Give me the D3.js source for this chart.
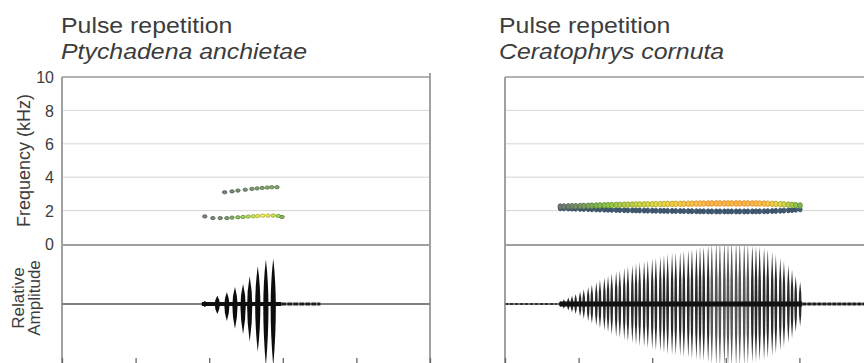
<!DOCTYPE html>
<html>
<head>
<meta charset="utf-8">
<script src="https://cdn.jsdelivr.net/npm/d3@7"></script>
<style>
  body { margin: 0; background: #fff; }
  svg { display: block; }
  text { font-family: "Liberation Sans", Arial, sans-serif; fill: #3c3c3c; }
</style>
</head>
<body>
<svg id="chart"></svg>
<script>
// ---------------------- data ---------------------------
const timeTicks = [0, 100, 200, 300, 400, 500];   // ms (labels fall below the frame)
const freqTicks = [0, 2, 4, 6, 8, 10];            // kHz
const gridFreqs = [2, 4, 6, 8];
const titleLine1 = ["Pulse repetition", "Pulse repetition"];
const titleLine2 = ["Ptychadena anchietae", "Ceratophrys cornuta"];

// Ptychadena anchietae - waveform pulses (time ms, relative amplitude up / down)
const anchTimes = [194, 211, 224, 235, 246, 255, 266, 277, 287];
const anchUp    = [0.05, 0.14, 0.20, 0.29, 0.34, 0.47, 0.64, 0.76, 0.77];
const anchDown  = [0.05, 0.17, 0.29, 0.42, 0.51, 0.64, 0.81, 1.05, 1.05];
const anchTail  = [298, 351];          // low level noise after the call (ms)

// Ptychadena anchietae - spectrogram traces (time ms, kHz, relative energy)
const anchHiT = [221, 231, 239, 249, 258, 265, 272, 279, 285, 292];
const anchHiF = [3.10, 3.15, 3.20, 3.25, 3.30, 3.33, 3.36, 3.38, 3.40, 3.40];
const anchHiE = [0.05, 0.08, 0.10, 0.12, 0.15, 0.18, 0.20, 0.22, 0.25, 0.20];
const anchLoT = [194, 205, 215, 224, 231, 239, 246, 253, 260, 266, 273, 280, 287, 294, 299];
const anchLoF = [1.65, 1.55, 1.55, 1.55, 1.58, 1.60, 1.62, 1.64, 1.66, 1.68, 1.70, 1.70, 1.70, 1.68, 1.62];
const anchLoE = [0.05, 0.08, 0.12, 0.18, 0.25, 0.35, 0.45, 0.55, 0.65, 0.75, 0.80, 0.75, 0.65, 0.50, 0.30];

// Ceratophrys cornuta - waveform pulses (time ms, relative amplitude)
const cornTimes = [75, 80, 86, 91, 96, 102, 107, 113, 118, 124, 129, 135, 140, 145, 151, 156,
  162, 167, 173, 178, 183, 189, 194, 200, 205, 211, 216, 221, 227, 232, 238, 243, 249, 254,
  260, 265, 270, 276, 281, 287, 292, 298, 303, 308, 314, 319, 325, 330, 336, 341, 346, 352,
  357, 363, 368, 374, 379, 385, 390, 395, 401];
const cornAmp = [0.05, 0.08, 0.11, 0.14, 0.17, 0.21, 0.25, 0.29, 0.33, 0.37, 0.41, 0.45, 0.48,
  0.52, 0.55, 0.58, 0.61, 0.64, 0.66, 0.69, 0.71, 0.73, 0.75, 0.77, 0.79, 0.81, 0.83, 0.85,
  0.86, 0.87, 0.88, 0.90, 0.91, 0.93, 0.94, 0.96, 0.97, 0.99, 1.02, 1.04, 1.05, 1.05, 1.05,
  1.05, 1.05, 1.05, 1.04, 1.02, 0.99, 0.98, 0.97, 0.95, 0.92, 0.88, 0.84, 0.79, 0.73, 0.66,
  0.58, 0.48, 0.38];
const cornPre  = [0, 70];      // faint noise before the call (ms)
const cornTail = [404, 500];   // noise after the call (ms)
const cornFreq = 2.2;          // dominant frequency (kHz)

// --------------------- layout --------------------------
const width = 864;
const height = 363;
const panelW = 368;
const panelX = [62, 505];
const topY = 77;
const splitY = 244;
const bottomY = 363;

const svg = d3.select("#chart")
  .attr("width", width)
  .attr("height", height);

const yF = d3.scaleLinear().domain([0, 10]).range([splitY, topY]);
const yA = d3.scaleLinear().domain([-1, 1]).range([bottomY, splitY + 1]);
const energyColor = d3.scaleLinear()
  .domain([0, 0.45, 0.8, 1])
  .range(["#555b64", "#6f9e3c", "#b9b23a", "#e0953a"]);

// spindle shaped pulse
function pulsePath(x, up, down, w) {
  const c = yA(0);
  return "M" + x + "," + yA(up) +
    "Q" + (x + 2 * w) + "," + c + " " + x + "," + yA(-down) +
    "Q" + (x - 2 * w) + "," + c + " " + x + "," + yA(up) + "Z";
}

const panels = [];
for (let p = 0; p < 2; p++) {
  const x0 = panelX[p];
  const x = d3.scaleLinear().domain([0, 500]).range([x0, x0 + panelW]);
  const g = svg.append("g");

  // clip for the amplitude part
  svg.append("clipPath").attr("id", "clipA" + p)
    .append("rect")
    .attr("x", x0).attr("y", splitY + 1)
    .attr("width", panelW).attr("height", bottomY - splitY);

  // grid lines
  g.selectAll(".grid")
    .data(gridFreqs)
    .join("line")
    .attr("x1", x0 + 1).attr("x2", x0 + panelW)
    .attr("y1", d => yF(d)).attr("y2", d => yF(d))
    .attr("stroke", "#d6d6d6")
    .attr("stroke-width", 1);

  // titles
  const t = svg.append("g");
  t.append("text")
    .attr("transform", "translate(" + (x0 - 1 - (p ? 5 : 0)) + ",33) scale(1.13,1)")
    .attr("font-size", 22)
    .text(titleLine1[p]);
  t.append("text")
    .attr("transform", "translate(" + (x0 - 1 - (p ? 5 : 0)) + ",59) scale(1.13,1)")
    .attr("font-size", 22)
    .attr("font-style", "italic")
    .text(titleLine2[p]);

  panels.push({ g: g, x: x, x0: x0 });
}

// --------------------- Ptychadena ----------------------
{
  const { g, x } = panels[0];
  const amp = g.append("g").attr("clip-path", "url(#clipA0)");
  amp.append("line")
    .attr("x1", x(0)).attr("x2", x(500))
    .attr("y1", yA(0)).attr("y2", yA(0))
    .attr("stroke", "#555").attr("stroke-width", 1.3);
  amp.append("line")
    .attr("x1", x(anchTail[0])).attr("x2", x(anchTail[1]))
    .attr("y1", yA(0)).attr("y2", yA(0))
    .attr("stroke", "#222").attr("stroke-width", 3)
    .attr("stroke-dasharray", "5,1");
  amp.append("line")
    .attr("x1", x(anchTimes[0]) - 3).attr("x2", x(anchTail[0]))
    .attr("y1", yA(0)).attr("y2", yA(0))
    .attr("stroke", "#111").attr("stroke-width", 4);
  amp.selectAll(".pulse")
    .data(anchTimes)
    .join("path")
    .attr("d", (d, i) => pulsePath(x(d), anchUp[i], anchDown[i], 2.6))
    .attr("fill", "#0d0d0d");

  const hi = anchHiT.map((d, i) => ({ t: d, f: anchHiF[i], e: anchHiE[i] }));
  const lo = anchLoT.map((d, i) => ({ t: d, f: anchLoF[i], e: anchLoE[i] }));
  g.selectAll(".hi")
    .data(hi.concat(lo))
    .join("ellipse")
    .attr("cx", d => x(d.t))
    .attr("cy", d => yF(d.f))
    .attr("rx", 2.2).attr("ry", 1.6)
    .attr("fill", d => d3.color(energyColor(d.e)).brighter(0.9))
    .attr("stroke", d => energyColor(d.e))
    .attr("stroke-width", 1);
}

// --------------------- Ceratophrys ---------------------
{
  const { g, x } = panels[1];
  const amp = g.append("g").attr("clip-path", "url(#clipA1)");
  amp.append("line")
    .attr("x1", x(0)).attr("x2", x(500))
    .attr("y1", yA(0)).attr("y2", yA(0))
    .attr("stroke", "#444").attr("stroke-width", 1.5);
  amp.append("line")
    .attr("x1", x(cornPre[0])).attr("x2", x(cornPre[1]))
    .attr("y1", yA(0)).attr("y2", yA(0))
    .attr("stroke", "#333").attr("stroke-width", 2)
    .attr("stroke-dasharray", "3,2");
  amp.append("line")
    .attr("x1", x(cornTail[0])).attr("x2", x(cornTail[1]))
    .attr("y1", yA(0)).attr("y2", yA(0))
    .attr("stroke", "#222").attr("stroke-width", 3)
    .attr("stroke-dasharray", "4,1");
  amp.selectAll(".pulse")
    .data(cornTimes)
    .join("path")
    .attr("d", (d, i) => pulsePath(x(d), cornAmp[i], cornAmp[i], 1.45))
    .attr("fill", "#141414")
    .attr("fill-opacity", (d, i) => cornAmp[i] > 1 ? 0.72 : 0.9);
  amp.append("line")
    .attr("x1", x(cornTimes[0])).attr("x2", x(cornTimes[cornTimes.length - 1]) + 2)
    .attr("y1", yA(0)).attr("y2", yA(0))
    .attr("stroke", "#111").attr("stroke-width", 5);

  // spectrogram band: lower dark trace and upper coloured trace per pulse
  g.append("line")
    .attr("x1", x(cornTimes[0]) - 2).attr("x2", x(cornTimes[12]))
    .attr("y1", yF(cornFreq)).attr("y2", yF(cornFreq))
    .attr("stroke", "#4a5a70").attr("stroke-width", 3);
  g.selectAll(".lo")
    .data(cornTimes)
    .join("ellipse")
    .attr("cx", d => x(d))
    .attr("cy", (d, i) => yF(cornFreq - 0.05 - 0.2 * Math.min(cornAmp[i], 1)))
    .attr("rx", 1.9).attr("ry", 2.6)
    .attr("fill", "#3e5a72")
    .attr("stroke", "#2f4458").attr("stroke-width", 0.8);
  g.selectAll(".up")
    .data(cornTimes)
    .join("ellipse")
    .attr("cx", d => x(d))
    .attr("cy", (d, i) => yF(cornFreq + 0.03 + 0.2 * Math.min(cornAmp[i], 1)))
    .attr("rx", 2.2).attr("ry", 2.8)
    .attr("fill", (d, i) => d3.color(energyColor(Math.min(cornAmp[i], 1))).brighter(0.6))
    .attr("stroke", (d, i) => energyColor(Math.min(cornAmp[i], 1)))
    .attr("stroke-width", 1);
}

// --------------------- frames and axes ----------------
panels.forEach((pn, p) => {
  const { x, x0 } = pn;
  const f = svg.append("g").attr("stroke", "#8a8a8a").attr("fill", "none");
  f.append("line").attr("x1", x0).attr("x2", x0).attr("y1", topY).attr("y2", bottomY)
    .attr("stroke-width", 1.6);
  f.append("line").attr("x1", x0 + panelW).attr("x2", x0 + panelW).attr("y1", topY - 4).attr("y2", bottomY)
    .attr("stroke-width", 1.6);
  f.append("line").attr("x1", x0).attr("x2", x0 + panelW).attr("y1", topY).attr("y2", topY)
    .attr("stroke-width", 1.4).attr("stroke", "#9a9a9a");
  f.append("line").attr("x1", x0).attr("x2", x0 + panelW).attr("y1", splitY + 1).attr("y2", splitY + 1)
    .attr("stroke-width", 2.2).attr("stroke", "#a0a0a0");

  const xa = svg.append("g")
    .attr("transform", "translate(0," + bottomY + ")")
    .call(d3.axisBottom(x).tickValues(timeTicks).tickSizeInner(-5).tickSizeOuter(0).tickFormat(""));
  xa.select(".domain").remove();
  xa.selectAll("line").attr("stroke", "#666").attr("stroke-width", 1.3);
});

// frequency axis labels (left panel only)
const ya = svg.append("g")
  .attr("transform", "translate(" + panelX[0] + ",0)")
  .call(d3.axisLeft(yF).tickValues(freqTicks).tickSize(0).tickPadding(8));
ya.select(".domain").remove();
ya.selectAll("text")
  .attr("font-size", 16)
  .attr("font-family", "Liberation Sans, Arial, sans-serif")
  .attr("fill", "#444")
  .attr("dy", "0.36em");

svg.append("text")
  .attr("transform", "translate(30," + ((topY + splitY) / 2) + ") rotate(-90)")
  .attr("text-anchor", "middle")
  .attr("font-size", 18)
  .text("Frequency (kHz)");
svg.append("text")
  .attr("transform", "translate(24,298) rotate(-90)")
  .attr("text-anchor", "middle")
  .attr("font-size", 17)
  .text("Relative");
svg.append("text")
  .attr("transform", "translate(40,298) rotate(-90)")
  .attr("text-anchor", "middle")
  .attr("font-size", 17)
  .text("Amplitude");
</script>
</body>
</html>
